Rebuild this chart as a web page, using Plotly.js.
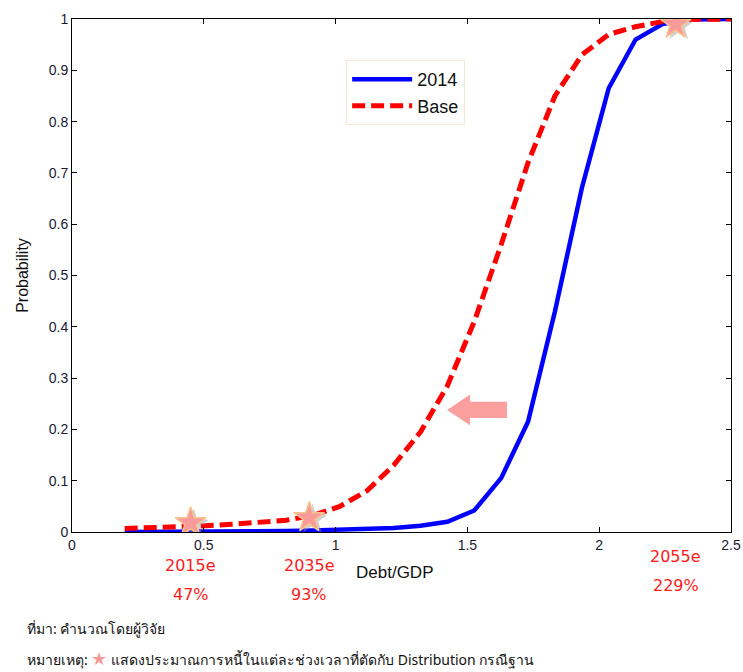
<!DOCTYPE html>
<html>
<head>
<meta charset="utf-8">
<script src="https://cdn.plot.ly/plotly-3.0.1.min.js"></script>
<style>html,body{margin:0;padding:0;background:#fff;}</style>
</head>
<body>
<div id="chart" style="width:743px;height:672px;"></div>
<script>
// Debt/GDP grid
const debtGDP = [0.2, 0.302, 0.404, 0.506, 0.608, 0.71, 0.812, 0.914, 1.016, 1.118, 1.22, 1.322, 1.424, 1.526, 1.628, 1.73, 1.832, 1.934, 2.036, 2.138, 2.24, 2.342, 2.5];
// Cumulative probability, 2014 distribution
const prob2014 = [0, 0, 0, 0, 0.001, 0.001, 0.002, 0.003, 0.004, 0.006, 0.008, 0.012, 0.02, 0.042, 0.105, 0.215, 0.43, 0.67, 0.865, 0.96, 0.99, 0.999, 1.0];
// Cumulative probability, Base distribution
const probBase = [0.007, 0.008, 0.01, 0.012, 0.015, 0.018, 0.023, 0.032, 0.05, 0.08, 0.13, 0.195, 0.285, 0.41, 0.56, 0.72, 0.85, 0.93, 0.97, 0.985, 0.995, 0.999, 1.0];
// Debt projections intersecting the Base distribution
const starYears = ["2015e", "2035e", "2055e"];
const starDebt = [0.45, 0.9, 2.29];
const starProb = [0.018, 0.028, 0.99];
const starPct = ["47%", "93%", "229%"];
const xTicks = [0, 0.5, 1, 1.5, 2, 2.5];
const xTickText = ["0", "0.5", "1", "1.5", "2", "2.5"];
const yTicks = [0, 0.1, 0.2, 0.3, 0.4, 0.5, 0.6, 0.7, 0.8, 0.9, 1];
const yTickText = ["0", "0.1", "0.2", "0.3", "0.4", "0.5", "0.6", "0.7", "0.8", "0.9", "1"];

const traces = [
  {x: debtGDP, y: prob2014, type: 'scatter', mode: 'lines', name: '2014',
   line: {color: '#0000ff', width: 4.5}},
  {x: debtGDP, y: probBase, type: 'scatter', mode: 'lines', name: 'Base',
   line: {color: '#ff0000', width: 5, dash: '13px,6px'}},
  {x: starDebt.map(v => v + 0.012), y: starProb.map(v => v - 0.004), type: 'scatter', mode: 'markers', showlegend: false, hoverinfo: 'skip',
   marker: {symbol: 'star', size: 23, color: 'rgba(150,150,150,0.45)', line: {width: 0}}},
  {x: starDebt, y: starProb, type: 'scatter', mode: 'markers', showlegend: false,
   marker: {symbol: 'star', size: 23, color: '#f99a9a', line: {color: '#f6c28e', width: 1.5}}}
];

const labelFont = {family: 'Tahoma, "DejaVu Sans", "Noto Sans", sans-serif', size: 16, color: '#ff1a1a'};
const annotations = [];
starDebt.forEach((d, i) => {
  const yOff = i === 2 ? -24 : -33;
  annotations.push({x: d, y: 0, xref: 'x', yref: 'y', yanchor: 'middle', showarrow: false,
    text: starYears[i], font: labelFont, yshift: yOff});
  annotations.push({x: d, y: 0, xref: 'x', yref: 'y', yanchor: 'middle', showarrow: false,
    text: starPct[i], font: labelFont, yshift: yOff - 29});
});
annotations.push({x: 1.225, y: 0, xref: 'x', yref: 'y', yanchor: 'middle', showarrow: false, yshift: -40,
  text: 'Debt/GDP', font: {family: 'Arial, "Liberation Sans", sans-serif', size: 17, color: '#111'}});
annotations.push({x: -47/659, xref: 'paper', y: -96/513, yref: 'paper', xanchor: 'left', yanchor: 'middle', showarrow: false,
  text: 'ที่มา: คำนวณโดยผู้วิจัย', font: {family: 'Tahoma, "Noto Sans", sans-serif', size: 14, color: '#111'}});
annotations.push({x: -47/659, xref: 'paper', y: -126/513, yref: 'paper', xanchor: 'left', yanchor: 'middle', showarrow: false,
  text: 'หมายเหตุ: <span style="color:#f99a9a;font-size:18px">★</span> แสดงประมาณการหนี้ในแต่ละช่วงเวลาที่ตัดกับ Distribution กรณีฐาน',
  font: {family: 'Tahoma, "Noto Sans", sans-serif', size: 14, color: '#111'}});

// shift arrow (annotation graphic), data-space path
const arrowPath = 'M 1.423 0.238 L 1.51 0.268 L 1.51 0.254 L 1.65 0.254 L 1.65 0.222 L 1.51 0.222 L 1.51 0.208 Z';

const layout = {
  width: 743, height: 672,
  margin: {l: 72, r: 12, t: 19, b: 140},
  paper_bgcolor: '#fff', plot_bgcolor: '#fff',
  showlegend: true,
  legend: {x: 0.416, y: 0.92, xanchor: 'left', yanchor: 'top', bgcolor: '#fff',
    bordercolor: '#f7e6d6', borderwidth: 1, itemwidth: 60,
    font: {family: 'Arial, "Liberation Sans", sans-serif', size: 18, color: '#111'}, tracegroupgap: 0},
  xaxis: {range: [0, 2.5], tickvals: xTicks, ticktext: xTickText, showgrid: false, zeroline: false,
    showline: true, linecolor: '#000', linewidth: 1, mirror: 'ticks', ticks: 'inside', ticklen: 5, tickcolor: '#000',
    tickfont: {family: 'Arial, "Liberation Sans", sans-serif', size: 14, color: '#1a1a33'}, fixedrange: true},
  yaxis: {range: [0, 1], tickvals: yTicks, ticktext: yTickText, showgrid: false, zeroline: false,
    showline: true, linecolor: '#000', linewidth: 1, mirror: 'ticks', ticks: 'inside', ticklen: 5, tickcolor: '#000',
    tickfont: {family: 'Arial, "Liberation Sans", sans-serif', size: 14, color: '#1a1a33'},
    title: {text: 'Probability', standoff: 16, font: {family: 'Arial, "Liberation Sans", sans-serif', size: 16, color: '#111'}}, fixedrange: true},
  shapes: [{type: 'path', xref: 'x', yref: 'y', path: arrowPath, fillcolor: '#fa9e9e', line: {width: 0}}],
  annotations: annotations
};

Plotly.newPlot('chart', traces, layout, {displayModeBar: false, staticPlot: true});
</script>
</body>
</html>
